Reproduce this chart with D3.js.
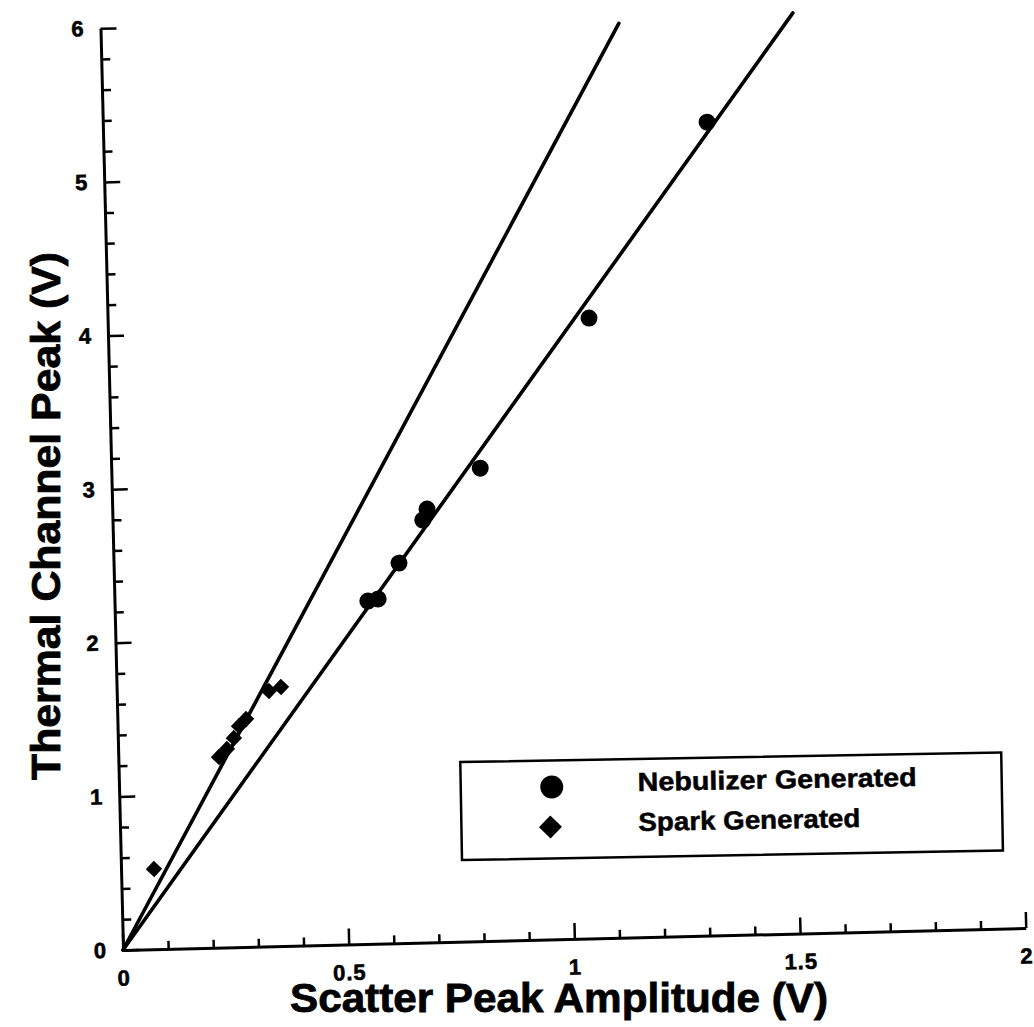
<!DOCTYPE html>
<html>
<head>
<meta charset="utf-8">
<script src="https://cdn.jsdelivr.net/npm/d3@7"></script>
<style>
  html, body { margin: 0; padding: 0; background: #fff; }
  svg { display: block; }
  text { font-family: "Liberation Sans", Arial, Helvetica, sans-serif; font-weight: bold; fill: #000; }
  .axis .domain { stroke: #000; stroke-width: 3; }
  .axis .tick line { stroke: #000; stroke-width: 2.5; }
</style>
</head>
<body>
<svg id="chart" width="1034" height="1027"></svg>
<script>
// ---- data ----
const xTickValues = [0, 0.5, 1, 1.5, 2];
const xTickLabels = ["0", "0.5", "1", "1.5", "2"];
const yTickValues = [0, 1, 2, 3, 4, 5, 6];
const yTickLabels = ["0", "1", "2", "3", "4", "5", "6"];
const xMinorTicks = [0.1,0.2,0.3,0.4,0.6,0.7,0.8,0.9,1.1,1.2,1.3,1.4,1.6,1.7,1.8,1.9];
const yMinorTicks = [0.2,0.4,0.6,0.8,1.2,1.4,1.6,1.8,2.2,2.4,2.6,2.8,3.2,3.4,3.6,3.8,4.2,4.4,4.6,4.8,5.2,5.4,5.6,5.8];

const nebulizerX = [0.561, 0.584, 0.632, 0.687, 0.697, 0.817, 1.066, 1.338];
const nebulizerY = [2.231, 2.243, 2.473, 2.749, 2.820, 3.078, 4.037, 5.293];
const sparkX = [0.073, 0.223, 0.241, 0.257, 0.269, 0.285, 0.337, 0.364];
const sparkY = [0.522, 1.240, 1.291, 1.361, 1.438, 1.483, 1.662, 1.686];

const fitNames = ["Spark fit", "Nebulizer fit"];
const fitStartX = [0, 0];
const fitStartY = [0, 0];
const fitEndX = [1.148, 1.534];
const fitEndY = [5.95, 5.99];

const legendLabels = ["Nebulizer Generated", "Spark Generated"];
const xTitle = "Scatter Peak Amplitude (V)";
const yTitle = "Thermal Channel Peak (V)";

// ---- drawing ----
const svg = d3.select("#chart");
const x = d3.scaleLinear().domain([0, 2]).range([123, 1026]);
const y = d3.scaleLinear().domain([0, 6]).range([950, 28]);

// the scanned figure is slightly tilted
const plot = svg.append("g").attr("transform", "rotate(-1.4,123,950)");

// minor ticks
plot.append("g").attr("class", "axis minor")
  .attr("transform", `translate(${x(0)},0)`)
  .call(d3.axisLeft(y).tickValues(yMinorTicks).tickSize(-9).tickSizeOuter(0).tickFormat(""))
  .call(g => g.select(".domain").remove());
plot.append("g").attr("class", "axis minor")
  .attr("transform", `translate(0,${y(0)})`)
  .call(d3.axisBottom(x).tickValues(xMinorTicks).tickSize(-8).tickSizeOuter(0).tickFormat(""))
  .call(g => g.select(".domain").remove());

// major axes
plot.append("g").attr("class", "axis")
  .attr("transform", `translate(${x(0)},0)`)
  .call(d3.axisLeft(y).tickValues(yTickValues).tickFormat((d, i) => yTickLabels[i])
        .tickSize(-16).tickSizeOuter(0).tickPadding(16));
plot.append("g").attr("class", "axis")
  .attr("transform", `translate(0,${y(0)})`)
  .call(d3.axisBottom(x).tickValues(xTickValues).tickFormat((d, i) => xTickLabels[i])
        .tickSize(-16).tickSizeOuter(0).tickPadding(20));
plot.selectAll(".axis").attr("font-size", null).attr("font-family", null);
plot.selectAll(".axis .tick text")
  .style("font-size", "22px")
  .style("font-weight", "bold")
  .style("letter-spacing", "1px")
  .style("font-family", "'Liberation Sans', Arial, sans-serif")
  .attr("stroke", "#000").attr("stroke-width", 0.6);

// fit lines
const fits = fitNames.map((n, i) => ({ name: n, pts: [[fitStartX[i], fitStartY[i]], [fitEndX[i], fitEndY[i]]] }));
const line = d3.line().x(d => x(d[0])).y(d => y(d[1]));
plot.append("g").selectAll("path").data(fits).join("path")
  .attr("d", d => line(d.pts))
  .attr("fill", "none").attr("stroke", "#000").attr("stroke-width", 3.6)
  .attr("stroke-linecap", "round");

// nebulizer points (circles)
const neb = nebulizerX.map((v, i) => ({ x: v, y: nebulizerY[i] }));
plot.append("g").selectAll("circle").data(neb).join("circle")
  .attr("cx", d => x(d.x)).attr("cy", d => y(d.y)).attr("r", 8.5).attr("fill", "#000");

// spark points (diamonds)
const spark = sparkX.map((v, i) => ({ x: v, y: sparkY[i] }));
const diamond = d3.symbol().type(d3.symbolSquare).size(135);
plot.append("g").selectAll("path").data(spark).join("path")
  .attr("d", diamond)
  .attr("transform", d => `translate(${x(d.x)},${y(d.y)}) rotate(45)`)
  .attr("fill", "#000");

// axis titles
svg.append("text")
  .attr("x", 559).attr("y", 1012)
  .attr("text-anchor", "middle")
  .attr("font-size", 40)
  .attr("stroke", "#000").attr("stroke-width", 0.8)
  .attr("textLength", 538).attr("lengthAdjust", "spacingAndGlyphs")
  .text(xTitle);
svg.append("text")
  .attr("transform", "translate(60,516) rotate(-90)")
  .attr("text-anchor", "middle")
  .attr("font-size", 40)
  .attr("stroke", "#000").attr("stroke-width", 0.8)
  .attr("textLength", 528).attr("lengthAdjust", "spacingAndGlyphs")
  .text(yTitle);

// legend
const leg = svg.append("g").attr("transform", "translate(462,860) rotate(-1.0)");
leg.append("rect")
  .attr("x", 0).attr("y", -98).attr("width", 541).attr("height", 98)
  .attr("fill", "#fff").attr("stroke", "#000").attr("stroke-width", 2.5);
leg.append("circle").attr("cx", 91).attr("cy", -71.5).attr("r", 11.5).attr("fill", "#000");
leg.append("path").attr("d", d3.symbol().type(d3.symbolSquare).size(265))
  .attr("transform", "translate(89,-31.5) rotate(45)").attr("fill", "#000");
const legLen = [279, 222];
const legY = [-66, -26];
leg.selectAll("text.leg").data(legendLabels).join("text").attr("class", "leg")
  .attr("x", 177).attr("y", (d, i) => legY[i])
  .attr("font-size", 26)
  .attr("stroke", "#000").attr("stroke-width", 0.5)
  .attr("textLength", (d, i) => legLen[i]).attr("lengthAdjust", "spacingAndGlyphs")
  .text(d => d);
</script>
</body>
</html>
